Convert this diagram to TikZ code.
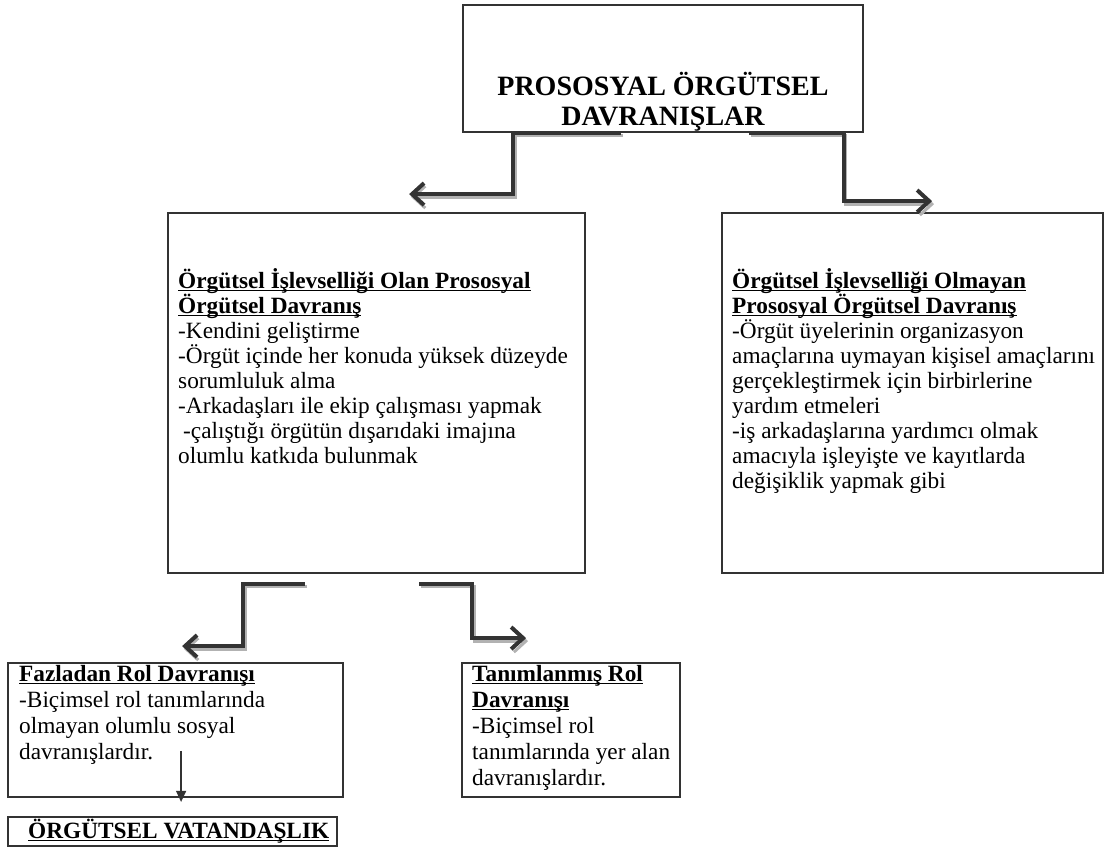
\documentclass[tikz,border=0pt]{standalone}
\usepackage{fontspec}
\setmainfont{Liberation Serif}
\usepackage{tikz}
\usetikzlibrary{arrows.meta,calc}
\newsavebox\ulbox
\newcommand\hul[1]{\sbox\ulbox{#1}\rlap{\rule[-3pt]{\wd\ulbox}{1.5pt}}\usebox\ulbox}
\tikzset{
 bx/.style={rectangle,draw=black!80,line width=1.8pt,inner sep=0pt},
 tx/.style={align=left,inner sep=0pt,anchor=base west,font=\fontsize{23.3}{25}\selectfont},
 ar/.style={line width=4pt,draw=black!80,line join=miter,
  -{Straight Barb[length=12pt,width=22pt]},
  preaction={draw=black!30,line width=3pt,transform canvas={xshift=2pt,yshift=-3pt}}},
 th/.style={line width=1.3pt,draw=black!80,-{Triangle[length=11pt,width=10pt]}}}

\begin{document}
\begin{tikzpicture}[x=1pt,y=-1pt]
 \useasboundingbox (0,0) rectangle (1105,849);
 % boxes
 \node[bx,minimum width=400pt,minimum height=127pt] (top) at (663,68.5) {};
 \node[bx,minimum width=417pt,minimum height=360pt] (ml) at (376.5,393) {};
 \node[bx,minimum width=381pt,minimum height=360pt] (mr) at (912.5,393) {};
 \node[bx,minimum width=335pt,minimum height=134pt] (fz) at (175.5,730) {};
 \node[bx,minimum width=218pt,minimum height=134pt] (tn) at (571,730) {};
 \node[bx,minimum width=329pt,minimum height=29pt] (vt) at (172.5,831.5) {};
 % texts (anchored at the baseline of their last line)
 \node[align=center,inner sep=0pt,anchor=base,font=\fontsize{28}{30}\selectfont\bfseries] (toptx) at (663,125)
  {PROSOSYAL ÖRGÜTSEL\\DAVRANIŞLAR};
 \node[tx] (mltx) at (178,463) {\textbf{\hul{Örgütsel İşlevselliği Olan Prososyal}}\\
  \textbf{\hul{Örgütsel Davranış}}\\
  -Kendini geliştirme\\
  -Örgüt içinde her konuda yüksek düzeyde\\
  sorumluluk alma\\
  -Arkadaşları ile ekip çalışması yapmak\\
  \hspace{5pt}-çalıştığı örgütün dışarıdaki imajına\\
  olumlu katkıda bulunmak};
 \node[tx] (mrtx) at (732,488) {\textbf{\hul{Örgütsel İşlevselliği Olmayan}}\\
  \textbf{\hul{Prososyal Örgütsel Davranış}}\\
  -Örgüt üyelerinin organizasyon\\
  amaçlarına uymayan kişisel amaçlarını\\
  gerçekleştirmek için birbirlerine\\
  yardım etmeleri\\
  -iş arkadaşlarına yardımcı olmak\\
  amacıyla işleyişte ve kayıtlarda\\
  değişiklik yapmak gibi};
 \node[tx,font=\fontsize{23.3}{26}\selectfont] (fztx) at (19,759) {\textbf{\hul{Fazladan Rol Davranışı}}\\
  -Biçimsel rol tanımlarında\\
  olmayan olumlu sosyal\\
  davranışlardır.};
 \node[tx,font=\fontsize{23.3}{26}\selectfont] (tntx) at (472,785) {\textbf{\hul{Tanımlanmış Rol}}\\
  \textbf{\hul{Davranışı}}\\
  -Biçimsel rol\\
  tanımlarında yer alan\\
  davranışlardır.};
 \node[tx] (vttx) at (28,838) {\textbf{\hul{ÖRGÜTSEL VATANDAŞLIK}}};
 % connectors
 \draw[ar] ($(top.south west)+(159,0)$) -- ($(top.south west)+(51,0)$) |- ($(ml.north west)+(242,-18)$);
 \draw[ar] ($(top.south west)+(287,0)$) -- ($(top.south east)+(-20,0)$) |- ($(mr.north west)+(211,-11)$);
 \draw[ar] ($(ml.south west)+(138,10)$) -- ($(ml.south west)+(76,10)$) |- ($(fz.north west)+(175,-16)$);
 \draw[ar] ($(ml.south west)+(252,10)$) -- ($(ml.south west)+(305,10)$) |- ($(tn.north west)+(65,-24)$);
 \draw[th] ($(fz.south west)+(174,-47)$) -- ($(fz.south west)+(174,4)$);
\end{tikzpicture}
\end{document}
